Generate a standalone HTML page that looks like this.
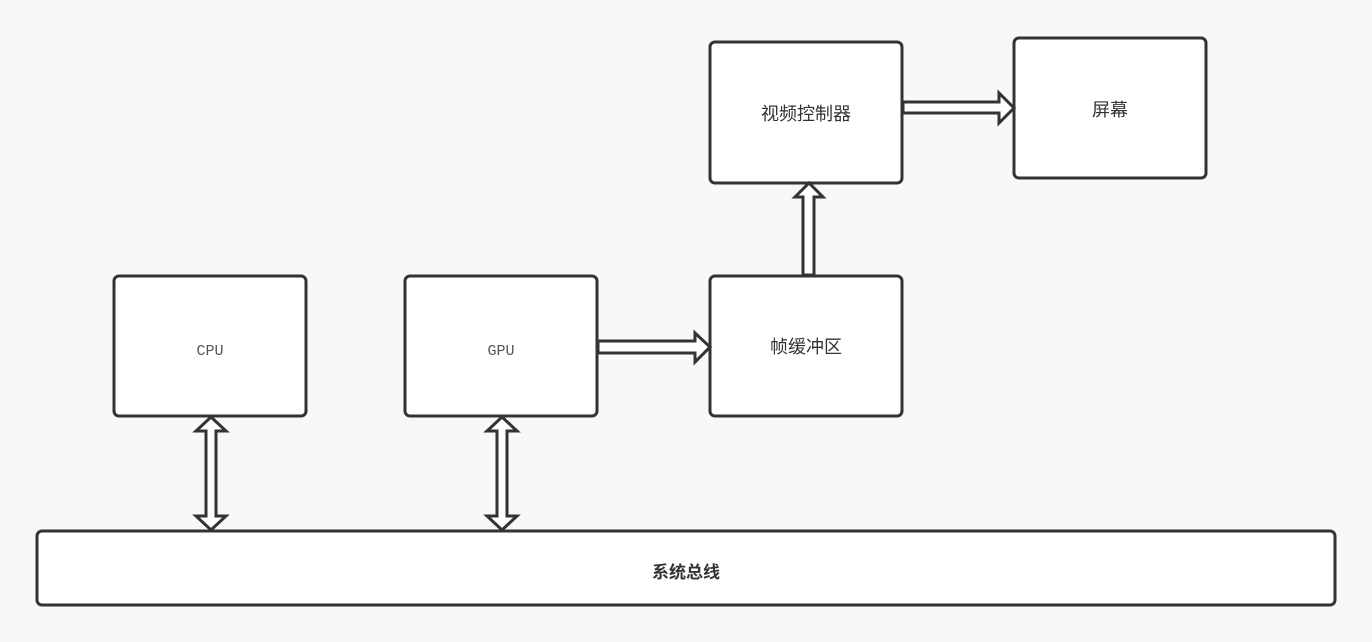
<!DOCTYPE html>
<html><head><meta charset="utf-8"><style>body{margin:0;background:#f8f8f8}svg{display:block}.m{font-family:"Liberation Mono","DejaVu Sans Mono",monospace}</style></head><body>
<svg width="1372" height="642" xmlns="http://www.w3.org/2000/svg">
<rect width="1372" height="642" fill="#f8f8f8"/>
<g fill="#fff" stroke="#333" stroke-width="3">
<rect x="114" y="276" width="192" height="140" rx="5"/>
<rect x="405" y="276" width="192" height="140" rx="5"/>
<rect x="710" y="276" width="192" height="140" rx="5"/>
<rect x="710" y="42" width="192" height="141" rx="5"/>
<rect x="1014" y="38" width="192" height="140" rx="5"/>
<rect x="37" y="531" width="1298" height="74" rx="5"/>
</g>
<g fill="#fff" stroke="#333" stroke-width="3" stroke-linejoin="miter">
<polygon points="211,417 226,431 216,431 216,516 226,516 211,530 196,516 206,516 206,431 196,431"/>
<polygon points="502,417 517,431 507,431 507,516 517,516 502,530 487,516 497,516 497,431 487,431"/>
<polygon points="598,341 695,341 695,333 710,347 695,362 695,353 598,353"/>
<polygon points="803,275 803,197 795,197 809,183 823,197 814,197 814,275"/>
<polygon points="903,102 999,102 999,93 1014,108 999,123 999,113 903,113"/>
</g>
<g class="m" font-size="15" fill="#555" text-anchor="middle">
<text class="m" x="210" y="355">CPU</text>
<text class="m" x="501" y="355">GPU</text>
</g>
<g font-family="Liberation Sans, 'Noto Sans CJK SC', sans-serif" font-size="18" fill="#333" text-anchor="middle">
<text x="806" y="353">帧缓冲区</text>
<text x="806" y="120">视频控制器</text>
<text x="1110" y="116">屏幕</text>
<text x="686" y="578" font-weight="bold" font-size="17">系统总线</text>
</g>
</svg>
</body></html>
